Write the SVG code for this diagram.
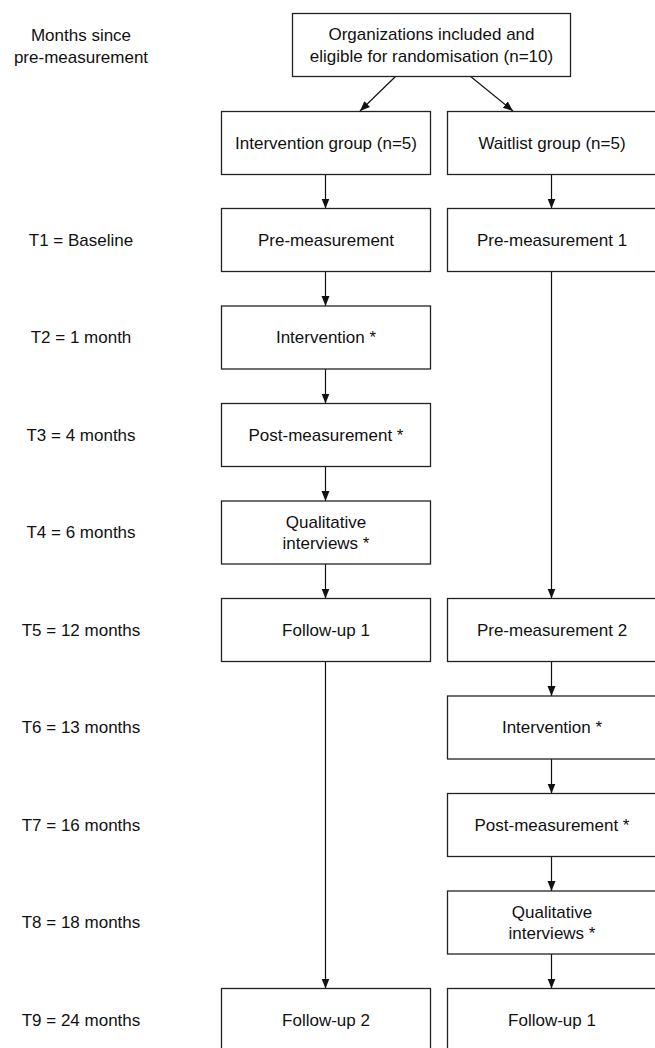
<svg xmlns="http://www.w3.org/2000/svg" width="655" height="1048" viewBox="0 0 655 1048">
<style>
.box{fill:#fff;stroke:#222;stroke-width:1.3}
.t{font-family:"Liberation Sans",Arial,sans-serif;font-size:17px;fill:#111;text-anchor:middle;dominant-baseline:central}
.c{stroke:#111;stroke-width:1.2;fill:none;marker-end:url(#ah)}
</style>
<defs>
<marker id="ah" viewBox="0 0 10 10" refX="10" refY="5" markerWidth="10" markerHeight="10" markerUnits="userSpaceOnUse" orient="auto">
<path d="M0,1 L10,5 L0,9 Z" fill="#111"/>
</marker>
</defs>
<rect width="655" height="1048" fill="#fff"/>
<g id="labels">
<text class="t" x="81" y="35.5">Months since</text>
<text class="t" x="81" y="57">pre-measurement</text>
<text class="t" x="81" y="240">T1 = Baseline</text>
<text class="t" x="81" y="337">T2 = 1 month</text>
<text class="t" x="81" y="435">T3 = 4 months</text>
<text class="t" x="81" y="532">T4 = 6 months</text>
<text class="t" x="81" y="630">T5 = 12 months</text>
<text class="t" x="81" y="727">T6 = 13 months</text>
<text class="t" x="81" y="825">T7 = 16 months</text>
<text class="t" x="81" y="922">T8 = 18 months</text>
<text class="t" x="81" y="1020.5">T9 = 24 months</text>
</g>
<g id="connectors">
<line class="c" x1="396" y1="76" x2="360" y2="111"/>
<line class="c" x1="470" y1="76" x2="513" y2="111"/>
<line class="c" x1="325.5" y1="174" x2="325.5" y2="208.5"/>
<line class="c" x1="325.5" y1="271.5" x2="325.5" y2="306"/>
<line class="c" x1="325.5" y1="369" x2="325.5" y2="403.5"/>
<line class="c" x1="325.5" y1="466.5" x2="325.5" y2="501"/>
<line class="c" x1="325.5" y1="564" x2="325.5" y2="598.5"/>
<line class="c" x1="325.5" y1="661.5" x2="325.5" y2="988.5"/>
<line class="c" x1="551.5" y1="174" x2="551.5" y2="208.5"/>
<line class="c" x1="551.5" y1="271.5" x2="551.5" y2="598.5"/>
<line class="c" x1="551.5" y1="661.5" x2="551.5" y2="696"/>
<line class="c" x1="551.5" y1="759" x2="551.5" y2="793.5"/>
<line class="c" x1="551.5" y1="856.5" x2="551.5" y2="891"/>
<line class="c" x1="551.5" y1="954" x2="551.5" y2="988.5"/>
</g>
<g id="n-top"><rect class="box" x="292.5" y="13.5" width="278" height="63"/><text class="t" x="431.5" y="34.5">Organizations included and</text><text class="t" x="431.5" y="56">eligible for randomisation (n=10)</text></g>
<g id="n-ig"><rect class="box" x="221.5" y="111.5" width="209" height="63"/><text class="t" x="326" y="143">Intervention group (n=5)</text></g>
<g id="n-wg"><rect class="box" x="447.5" y="111.5" width="209" height="63"/><text class="t" x="552" y="143">Waitlist group (n=5)</text></g>
<g id="n-l1"><rect class="box" x="221.5" y="208.5" width="209" height="63"/><text class="t" x="326" y="240">Pre-measurement</text></g>
<g id="n-r1"><rect class="box" x="447.5" y="208.5" width="209" height="63"/><text class="t" x="552" y="240">Pre-measurement 1</text></g>
<g id="n-l2"><rect class="box" x="221.5" y="306" width="209" height="63"/><text class="t" x="326" y="337.5">Intervention *</text></g>
<g id="n-l3"><rect class="box" x="221.5" y="403.5" width="209" height="63"/><text class="t" x="326" y="435">Post-measurement *</text></g>
<g id="n-l4"><rect class="box" x="221.5" y="501" width="209" height="63"/><text class="t" x="326" y="522">Qualitative</text><text class="t" x="326" y="543">interviews *</text></g>
<g id="n-l5"><rect class="box" x="221.5" y="598.5" width="209" height="63"/><text class="t" x="326" y="630">Follow-up 1</text></g>
<g id="n-r5"><rect class="box" x="447.5" y="598.5" width="209" height="63"/><text class="t" x="552" y="630">Pre-measurement 2</text></g>
<g id="n-r6"><rect class="box" x="447.5" y="696" width="209" height="63"/><text class="t" x="552" y="727.5">Intervention *</text></g>
<g id="n-r7"><rect class="box" x="447.5" y="793.5" width="209" height="63"/><text class="t" x="552" y="825">Post-measurement *</text></g>
<g id="n-r8"><rect class="box" x="447.5" y="891" width="209" height="63"/><text class="t" x="552" y="912">Qualitative</text><text class="t" x="552" y="933">interviews *</text></g>
<g id="n-l9"><rect class="box" x="221.5" y="988.5" width="209" height="63"/><text class="t" x="326" y="1020">Follow-up 2</text></g>
<g id="n-r9"><rect class="box" x="447.5" y="988.5" width="209" height="63"/><text class="t" x="552" y="1020">Follow-up 1</text></g>
</svg>
